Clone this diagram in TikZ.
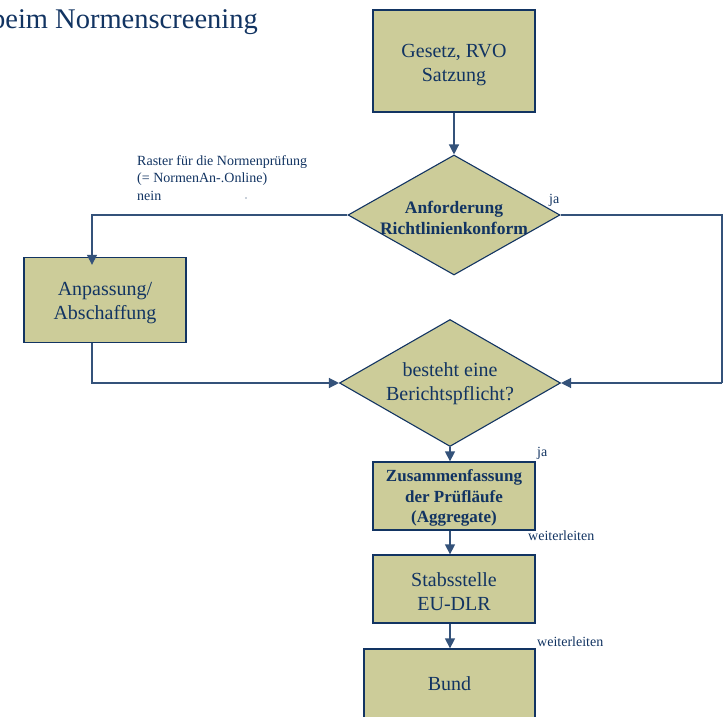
\documentclass[tikz,border=0pt]{standalone}
\usepackage{fontspec}
\setmainfont{Liberation Serif}
\usetikzlibrary{shapes.geometric,arrows.meta}
\definecolor{boxfill}{RGB}{204,204,153}
\definecolor{navy}{RGB}{18,52,98}
\definecolor{linec}{RGB}{52,82,122}
\tikzset{
  box/.style={draw=navy,line width=1.3pt,fill=boxfill,inner sep=0pt},
  dia/.style={diamond,draw=navy,line width=1.1pt,fill=boxfill,inner sep=0pt},
  conn/.style={draw=linec,line width=1.3pt,-{Triangle[width=10pt,length=10pt]}},
  wire/.style={draw=linec,line width=1.3pt},
  small/.style={text=navy,font=\fontsize{14}{17.5}\selectfont,inner sep=0pt},
  big/.style={text=navy,font=\fontsize{20}{24}\selectfont,align=center},
  bigbold/.style={text=navy,font=\fontsize{17.5}{20.5}\selectfont\bfseries,align=center},
  midbold/.style={text=navy,font=\fontsize{17}{20.5}\selectfont\bfseries,align=center}
}
\begin{document}
\begin{tikzpicture}[x=1pt,y=-1pt]
\useasboundingbox[fill=white] (0,0) rectangle (724,717);
% title
\node[anchor=base east,text=navy,font=\fontsize{28.5}{32}\selectfont,inner sep=0pt] (title) at (258,29) {beim Normenscreening};
% boxes
\node[box,minimum width=162pt,minimum height=102pt] (gesetz) at (454,61) {};
\node[big] (gesetzt) at (454,65) {Gesetz, RVO\\Satzung};
\node[dia,minimum width=212pt,minimum height=120pt] (d1) at (454,215) {};
\node[bigbold] (d1t) at (454,218) {Anforderung\\Richtlinienkonform};
\node[box,minimum width=162pt,minimum height=85pt] (anp) at (105,300) {};
\node[big] (anpt) at (105,303) {Anpassung/\\Abschaffung};
\node[dia,minimum width=221pt,minimum height=127pt] (d2) at (450,383) {};
\node[big] (d2t) at (450,384) {besteht eine\\Berichtspflicht?};
\node[box,minimum width=162pt,minimum height=68pt] (zus) at (454,496) {};
\node[midbold] (zust) at (454,498) {Zusammenfassung\\der Prüfläufe\\(Aggregate)};
\node[box,minimum width=162pt,minimum height=68pt] (stab) at (454,589) {};
\node[big] (stabt) at (454,592) {Stabsstelle\\EU-DLR};
\node[box,minimum width=171pt,minimum height=70pt] (bund) at (449.5,684) {};
\node[big] (bundt) at (449.5,684) {Bund};
% labels
\node[small,anchor=north west,align=left] (raster) at (137,155) {Raster für die Normenprüfung\\(= NormenAn-.Online)\\nein};
\fill[navy] (246,198) circle (0.6pt);
\node[small,anchor=base west] (ja1) at (549,204) {ja};
\node[small,anchor=base west] (ja2) at (537,456) {ja};
\node[small,anchor=base west] (wl1) at (528,540) {weiterleiten};
\node[small,anchor=base west] (wl2) at (537,646) {weiterleiten};
% coordinates
\coordinate (lt) at (92,215);
\coordinate (rt) at (722,215);
\coordinate (rb) at (722,383);
\coordinate (lb) at (92,383);
% connectors
\draw[conn] (gesetz.south) -- (d1.north);
\draw[conn] (d1.west) -- (lt) -- ([yshift=-8pt]anp.north -| lt);
\draw[wire] (d1.east) -- (rt) -- (rb);
\draw[conn] (rb) -- (d2.east);
\draw[conn] (anp.south -| lb) -- (lb) -- (d2.west);
\draw[conn] (d2.south) -- (zus.north -| d2.south);
\draw[conn] (zus.south -| d2.south) -- (stab.north -| d2.south);
\draw[conn] (stab.south -| d2.south) -- (bund.north -| d2.south);
\end{tikzpicture}
\end{document}
